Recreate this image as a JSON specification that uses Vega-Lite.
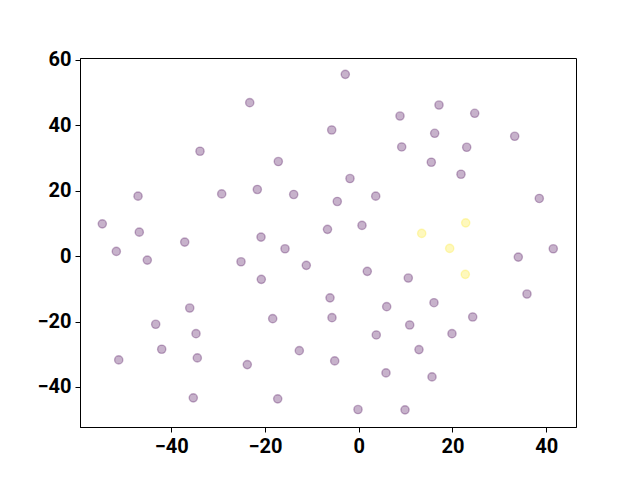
{
  "$schema": "https://vega.github.io/schema/vega-lite/v6.json",
  "width": 496,
  "height": 369,
  "autosize": {"type": "none"},
  "padding": {"left": 80, "top": 58, "right": 64, "bottom": 53},
  "background": "white",
  "config": {
    "view": {"stroke": "black", "strokeWidth": 1},
    "axis": {
      "grid": false,
      "domainColor": "black",
      "tickColor": "black",
      "tickSize": 5,
      "labelPadding": 4,
      "labelFont": "Roboto",
      "labelFontWeight": "bold",
      "labelFontSize": 20,
      "labelColor": "black",
      "title": null
    }
  },
  "data": {
    "values": [
      {"x": -23.25, "y": 46.9, "c": 0},
      {"x": -33.86, "y": 32.04, "c": 0},
      {"x": -17.15, "y": 28.9, "c": 0},
      {"x": -47.08, "y": 18.31, "c": 0},
      {"x": -29.23, "y": 19.01, "c": 0},
      {"x": -21.63, "y": 20.35, "c": 0},
      {"x": -13.87, "y": 18.83, "c": 0},
      {"x": -54.7, "y": 9.86, "c": 0},
      {"x": -46.81, "y": 7.32, "c": 0},
      {"x": -37.12, "y": 4.27, "c": 0},
      {"x": -20.84, "y": 5.8, "c": 0},
      {"x": -6.66, "y": 8.18, "c": 0},
      {"x": -2.86, "y": 55.54, "c": 0},
      {"x": 17.13, "y": 46.17, "c": 0},
      {"x": 24.75, "y": 43.64, "c": 0},
      {"x": 8.81, "y": 42.81, "c": 0},
      {"x": -5.76, "y": 38.54, "c": 0},
      {"x": 16.21, "y": 37.53, "c": 0},
      {"x": 33.28, "y": 36.62, "c": 0},
      {"x": 9.17, "y": 33.35, "c": 0},
      {"x": 23.04, "y": 33.26, "c": 0},
      {"x": 15.49, "y": 28.68, "c": 0},
      {"x": 21.82, "y": 25.02, "c": 0},
      {"x": -1.86, "y": 23.71, "c": 0},
      {"x": -4.57, "y": 16.69, "c": 0},
      {"x": 3.63, "y": 18.31, "c": 0},
      {"x": 38.53, "y": 17.61, "c": 0},
      {"x": 0.7, "y": 9.37, "c": 0},
      {"x": -51.71, "y": 1.43, "c": 0},
      {"x": -45.1, "y": -1.22, "c": 0},
      {"x": -25.11, "y": -1.74, "c": 0},
      {"x": -15.72, "y": 2.23, "c": 0},
      {"x": -11.18, "y": -2.84, "c": 0},
      {"x": -20.78, "y": -7.11, "c": 0},
      {"x": -6.12, "y": -12.76, "c": 0},
      {"x": -36.05, "y": -15.87, "c": 0},
      {"x": -43.31, "y": -20.84, "c": 0},
      {"x": -18.35, "y": -19.13, "c": 0},
      {"x": -5.7, "y": -18.83, "c": 0},
      {"x": -34.71, "y": -23.71, "c": 0},
      {"x": -42.03, "y": -28.47, "c": 0},
      {"x": -51.2, "y": -31.74, "c": 0},
      {"x": -34.43, "y": -31.13, "c": 0},
      {"x": -12.67, "y": -28.9, "c": 0},
      {"x": -23.77, "y": -33.17, "c": 0},
      {"x": -35.29, "y": -43.33, "c": 0},
      {"x": -17.28, "y": -43.64, "c": 0},
      {"x": 34.05, "y": -0.31, "c": 0},
      {"x": 41.51, "y": 2.23, "c": 0},
      {"x": 1.83, "y": -4.67, "c": 0},
      {"x": 10.58, "y": -6.71, "c": 0},
      {"x": 5.97, "y": -15.47, "c": 0},
      {"x": 16.06, "y": -14.25, "c": 0},
      {"x": 35.9, "y": -11.6, "c": 0},
      {"x": 3.75, "y": -24.11, "c": 0},
      {"x": 10.88, "y": -21.06, "c": 0},
      {"x": 24.32, "y": -18.61, "c": 0},
      {"x": 19.9, "y": -23.71, "c": 0},
      {"x": 12.86, "y": -28.59, "c": 0},
      {"x": -5.12, "y": -32.04, "c": 0},
      {"x": 5.82, "y": -35.7, "c": 0},
      {"x": 15.64, "y": -36.92, "c": 0},
      {"x": -0.15, "y": -46.9, "c": 0},
      {"x": 9.88, "y": -46.99, "c": 0},
      {"x": 22.83, "y": 10.16, "c": 1},
      {"x": 13.44, "y": 6.93, "c": 1},
      {"x": 19.41, "y": 2.35, "c": 1},
      {"x": 22.74, "y": -5.58, "c": 1}
    ]
  },
  "mark": {"type": "point", "filled": true, "fillOpacity": 0.3, "strokeOpacity": 0.3, "strokeWidth": 1.4, "size": 68},
  "encoding": {
    "x": {"field": "x", "type": "quantitative", "scale": {"domain": [-59.46, 46.36], "nice": false, "zero": false}, "axis": {"values": [-40, -20, 0, 20, 40]}},
    "y": {"field": "y", "type": "quantitative", "scale": {"domain": [-52.24, 60.54], "nice": false, "zero": false}, "axis": {"values": [-40, -20, 0, 20, 40, 60]}},
    "color": {"field": "c", "type": "nominal", "scale": {"domain": [0, 1], "range": ["#440154", "#fde725"]}, "legend": null},
    "stroke": {"field": "c", "type": "nominal", "scale": {"domain": [0, 1], "range": ["#440154", "#fde725"]}, "legend": null}
  }
}
